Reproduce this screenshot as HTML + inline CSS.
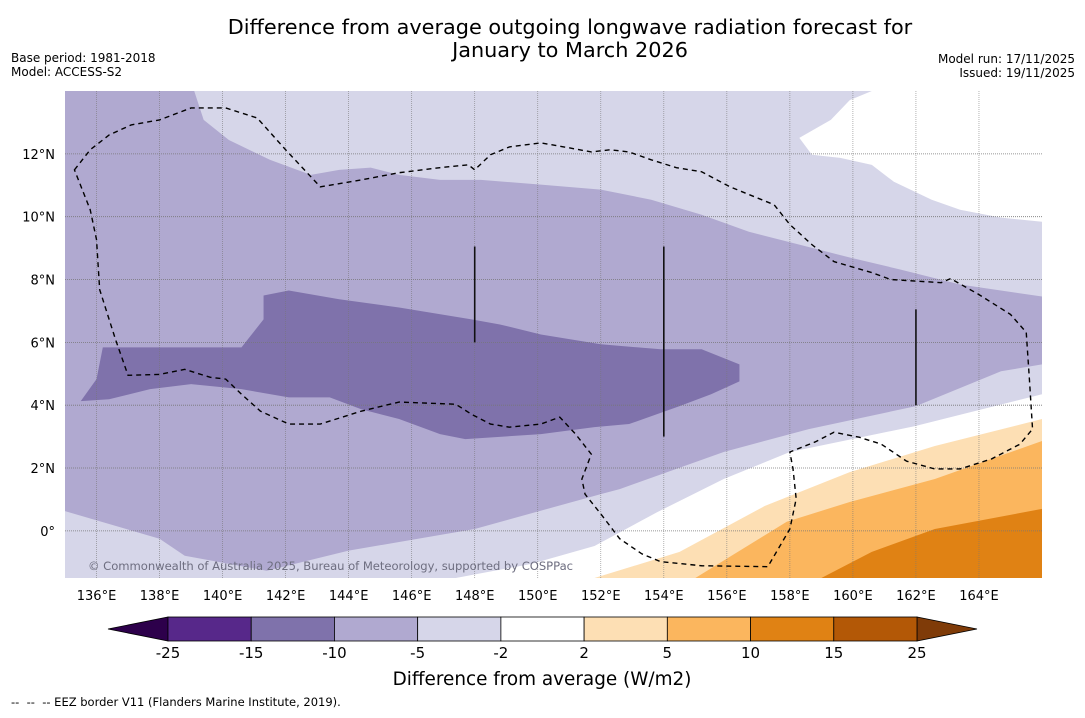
<!DOCTYPE html>
<html><head><meta charset="utf-8">
<style>
body{margin:0;background:#fff;width:1085px;height:713px;overflow:hidden;font-family:"Liberation Sans","DejaVu Sans",sans-serif;}
svg text{font-family:"DejaVu Sans","Liberation Sans",sans-serif;}
</style></head>
<body>
<svg id="chart" width="1085" height="713" xmlns="http://www.w3.org/2000/svg">
<text x="570" y="34" font-size="20.8" text-anchor="middle">Difference from average outgoing longwave radiation forecast for</text>
<text x="570" y="57" font-size="20.8" text-anchor="middle">January to March 2026</text>
<text x="11" y="62" font-size="12">Base period: 1981-2018</text>
<text x="11" y="76" font-size="12">Model: ACCESS-S2</text>
<text x="1075" y="63" font-size="12" text-anchor="end">Model run: 17/11/2025</text>
<text x="1075" y="77" font-size="12" text-anchor="end">Issued: 19/11/2025</text>
<g id="map"></g>
<g id="cbar"></g>
<text x="542" y="685" font-size="18.4" text-anchor="middle">Difference from average (W/m2)</text>
<text x="11" y="706" font-size="11.5" xml:space="preserve">--  --  -- EEZ border V11 (Flanders Marine Institute, 2019).</text>
</svg>
<script>
const NS='http://www.w3.org/2000/svg';
const lonTicks=[136,138,140,142,144,146,148,150,152,154,156,158,160,162,164];
const latTicks=[0,2,4,6,8,10,12];
const cbarBounds=[-25,-15,-10,-5,-2,2,5,10,15,25];
const cbarColors=['#57288a','#7f72ab','#b0a9d0','#d6d6e9','#ffffff','#fddfb4','#fbb65e','#e08214','#b35806'];
const whiteTop=[[160.6,14],[166,14],[166,9.84],[164.7,9.97],[163.4,10.22],[162.5,10.54],[161.3,11.11],[160.6,11.65],[159.6,11.87],[158.7,11.97],[158.3,12.51],[159.3,13.08],[159.9,13.71]];
const whiteBottom=[[147.4,-1.5],[149.8,-1.05],[151.8,-0.48],[153.8,0.6],[155.9,1.65],[158.0,2.51],[161.95,3.33],[166,4.35],[166,-1.5]];
const orangeLight=[[151.8,-1.5],[154.5,-0.67],[157.2,0.79],[159.9,1.87],[162.6,2.7],[166,3.56],[166,-1.5]];
const orangeMid=[[155.0,-1.5],[157.9,0.29],[159.9,0.92],[162.6,1.65],[166,2.86],[166,-1.5]];
const orangeDark=[[159.0,-1.5],[160.6,-0.67],[162.6,0.06],[166,0.7],[166,-1.5]];
const lav10=[[135,14],[139.1,14],[139.4,13.08],[140.2,12.44],[141.5,11.81],[142.8,11.33],[143.7,11.49],[144.7,11.56],[145.6,11.33],[146.9,11.17],[148.2,11.17],[150.1,11.02],[152.0,10.86],[153.6,10.54],[155.2,10.06],[156.7,9.52],[158.3,9.11],[159.9,8.7],[161.5,8.32],[163.4,7.84],[166,7.46],[166,5.3],[164.7,5.08],[162.0,3.97],[158.6,3.24],[155.9,2.51],[152.6,1.33],[152.0,1.17],[148.0,0.06],[144.0,-0.63],[141.4,-1.27],[138.8,-0.79],[138.0,-0.25],[135,0.63]];
const lav15=[[135.5,4.13],[136.0,4.83],[136.2,5.84],[140.6,5.84],[141.3,6.73],[141.3,7.49],[142.1,7.65],[143.7,7.37],[145.6,7.11],[147.9,6.73],[148.8,6.57],[150.1,6.25],[152.0,5.94],[153.9,5.78],[155.2,5.78],[156.4,5.3],[156.4,4.76],[155.5,4.35],[154.5,3.97],[152.9,3.4],[151.8,3.3],[150.1,3.08],[147.7,2.92],[146.9,3.08],[145.6,3.56],[144.4,3.87],[143.4,4.25],[142.1,4.25],[140.6,4.51],[139.0,4.67],[137.7,4.51],[136.4,4.19]];
const eez=[[135.3,11.49],[135.8,12.13],[136.4,12.6],[137.1,12.92],[138.0,13.08],[139.0,13.46],[140.1,13.46],[141.1,13.14],[142.0,12.13],[143.1,10.95],[144.4,11.17],[145.6,11.4],[146.9,11.56],[147.8,11.65],[148.0,11.49],[148.5,11.97],[149.1,12.22],[150.1,12.35],[151.0,12.19],[151.7,12.06],[152.3,12.13],[152.9,12.06],[153.6,11.81],[154.4,11.56],[155.2,11.43],[156.1,10.95],[157.5,10.38],[158.0,9.75],[158.7,9.11],[159.4,8.57],[160.6,8.22],[161.2,8.0],[162.8,7.9],[163.1,8.03],[164.0,7.52],[165.0,6.89],[165.5,6.32],[165.6,4.83],[165.7,3.24],[165.3,2.76],[164.4,2.29],[163.4,1.97],[162.6,1.97],[161.7,2.22],[160.9,2.76],[160.2,2.98],[159.4,3.14],[158.8,2.83],[158.0,2.51],[158.1,1.97],[158.2,1.02],[158.0,0.06],[157.3,-1.14],[155.2,-1.11],[153.9,-0.98],[153.3,-0.73],[152.6,-0.25],[152.0,0.54],[151.5,1.17],[151.4,1.65],[151.7,2.44],[151.2,3.08],[150.7,3.62],[150.1,3.4],[149.1,3.3],[148.5,3.4],[147.9,3.71],[147.4,4.03],[145.6,4.1],[144.4,3.81],[143.1,3.4],[142.1,3.4],[141.2,3.81],[140.6,4.35],[140.1,4.83],[139.6,4.89],[138.8,5.14],[138.0,4.98],[137.0,4.95],[136.6,6.1],[136.1,7.68],[136.0,9.27],[135.8,10.22]];
const stationLines=[[148,6.0,9.05],[154,3.0,9.05],[162,4.0,7.05]];
const LON0=135,LON1=166,LAT0=-1.5,LAT1=14,X0=65,X1=1042,Y0=91,Y1=578;
const px=l=>X0+(l-LON0)/(LON1-LON0)*(X1-X0);
const py=l=>Y0+(LAT1-l)/(LAT1-LAT0)*(Y1-Y0);
const map=document.getElementById('map');
function mk(tag,attrs,parent){const e=document.createElementNS(NS,tag);for(const k in attrs)e.setAttribute(k,attrs[k]);parent.appendChild(e);return e;}
const cp=mk('clipPath',{id:'mc'},map);mk('rect',{x:X0,y:Y0,width:X1-X0,height:Y1-Y0},cp);
const g=mk('g',{'clip-path':'url(#mc)'},map);
let bg=mk('rect',{x:X0,y:Y0,width:X1-X0,height:Y1-Y0,fill:cbarColors[3]},g);


function poly(pts,fill,name){const p=mk('polygon',{points:pts.map(q=>px(q[0])+','+py(q[1])).join(' '),fill:fill},g);

return p;}
poly(whiteTop,'#fff','neutral-region-north');
poly(whiteBottom,'#fff','neutral-region-south');
poly(orangeLight,cbarColors[5],'anomaly-plus2-region');
poly(orangeMid,cbarColors[6],'anomaly-plus5-region');
poly(orangeDark,cbarColors[7],'anomaly-plus10-region');
poly(lav10,cbarColors[2],'anomaly-minus10-region');
poly(lav15,cbarColors[1],'anomaly-minus15-region');
lonTicks.forEach(l=>{const x=px(l);
const ln=mk('line',{x1:x,x2:x,y1:Y0,y2:Y1,stroke:'#777','stroke-width':0.7,'stroke-dasharray':'1 1',opacity:0.8},g);


const t=mk('text',{x:x,y:600,'font-size':13,'text-anchor':'middle'},map);t.textContent=l+'°E';

});
latTicks.forEach(l=>{const y=py(l);
const ln=mk('line',{x1:X0,x2:X1,y1:y,y2:y,stroke:'#777','stroke-width':0.8,'stroke-dasharray':'1 1'},g);


const t=mk('text',{x:55,y:y+5,'font-size':13,'text-anchor':'end'},map);t.textContent=l===0?'0°':l+'°N';

});
const e=mk('polygon',{points:eez.map(q=>px(q[0])+','+py(q[1])).join(' '),fill:'none',stroke:'#000','stroke-width':1.4,'stroke-dasharray':'5 4'},g);


stationLines.forEach(s=>{const l=mk('line',{x1:px(s[0]),x2:px(s[0]),y1:py(s[2]),y2:py(s[1]),stroke:'#111','stroke-width':1.6},g);

});
const at=mk('text',{x:88,y:570,'font-size':11.6,fill:'#6e6e80',textLength:485},g);at.textContent='© Commonwealth of Australia 2025, Bureau of Meteorology, supported by COSPPac';


const cb=document.getElementById('cbar');
const CX0=168,CX1=917,CY=617,CH=24;
const step=(CX1-CX0)/(cbarBounds.length-1);
const tl=mk('polygon',{points:`108,${CY+CH/2} ${CX0},${CY} ${CX0},${CY+CH}`,fill:'#2d004b',stroke:'#000','stroke-width':0.8},cb);


const tr=mk('polygon',{points:`977,${CY+CH/2} ${CX1},${CY} ${CX1},${CY+CH}`,fill:'#7f3b08',stroke:'#000','stroke-width':0.8},cb);


cbarColors.forEach((c,i)=>{const r=mk('rect',{x:CX0+i*step,y:CY,width:step,height:CH,fill:c,stroke:'#000','stroke-width':0.8},cb);

});
cbarBounds.forEach((b,i)=>{const t=mk('text',{x:CX0+i*step,y:658,'font-size':15,'text-anchor':'middle'},cb);t.textContent=b;

});
</script>
</body></html>
